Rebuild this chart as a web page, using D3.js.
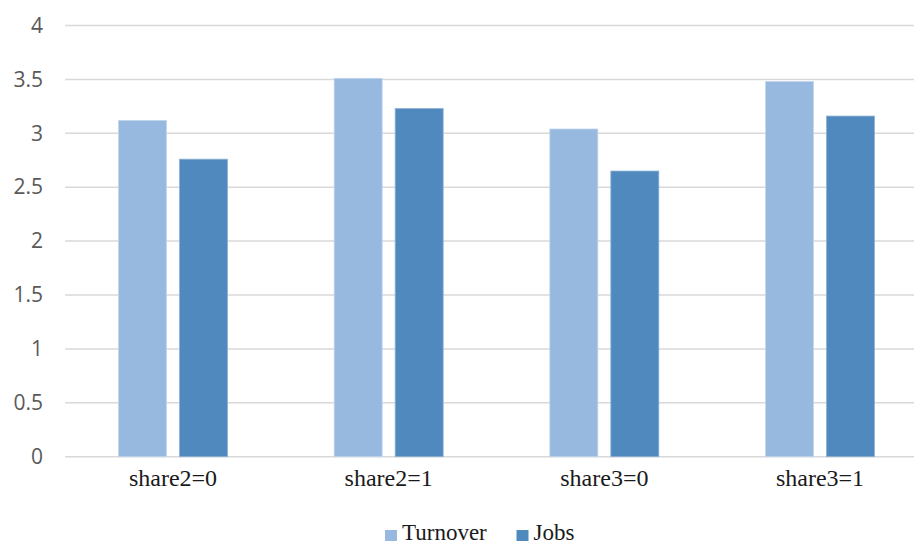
<!DOCTYPE html>
<html>
<head>
<meta charset="utf-8">
<script src="https://cdn.jsdelivr.net/npm/d3@7"></script>
<style>
  html, body { margin: 0; padding: 0; background: #ffffff; }
  svg { display: block; }
</style>
</head>
<body>
<svg id="chart" width="914" height="545"></svg>
<script>
// Data
const categories = ["share2=0", "share2=1", "share3=0", "share3=1"];
const seriesNames = ["Turnover", "Jobs"];
const turnover = [3.12, 3.51, 3.04, 3.48];
const jobs = [2.76, 3.23, 2.65, 3.16];
const yTicks = [0, 0.5, 1, 1.5, 2, 2.5, 3, 3.5, 4];
const colors = ["#98b9df", "#4f89bd"];

const values = [turnover, jobs];

const svg = d3.select("#chart");
const W = 914, H = 545;

// Plot area (the category axis runs a little past the right edge)
const plotLeft = 65.2, plotRight = 927.8;
const plotTop = 25.5, plotBottom = 456.7;

const x0 = d3.scaleBand().domain(categories).range([plotLeft, plotRight]).paddingInner(0).paddingOuter(0);
const groupW = 109;
const x1 = d3.scaleBand().domain(seriesNames).range([0, groupW]).paddingInner(2 - groupW / 61).paddingOuter(0);
const y = d3.scaleLinear().domain([0, 4]).range([plotBottom, plotTop]);

// Gridlines
svg.append("g")
  .selectAll("line")
  .data(yTicks)
  .join("line")
  .attr("x1", plotLeft)
  .attr("x2", W)
  .attr("y1", d => y(d))
  .attr("y2", d => y(d))
  .attr("stroke", "#d9d9d9")
  .attr("stroke-width", 1.5);

// Y axis labels
const yAxis = d3.axisLeft(y).tickValues(yTicks).tickSize(0).tickPadding(0).tickFormat(d3.format("~g"));
const gy = svg.append("g").attr("transform", `translate(43,0)`).call(yAxis);
gy.select(".domain").remove();
gy.selectAll("text")
  .attr("fill", "#595959")
  .style("font-family", "'Open Sans', 'Noto Sans', sans-serif")
  .style("font-size", "21px");

// Bars
const groups = svg.append("g")
  .selectAll("g")
  .data(categories)
  .join("g")
  .attr("transform", c => `translate(${x0(c) + (x0.bandwidth() - groupW) / 2},0)`);

groups.selectAll("rect")
  .data((c, i) => seriesNames.map((s, k) => ({ s, v: values[k][i], k })))
  .join("rect")
  .attr("x", d => x1(d.s))
  .attr("width", x1.bandwidth())
  .attr("y", d => y(d.v))
  .attr("height", d => y(0) - y(d.v))
  .attr("fill", d => colors[d.k])
  .attr("stroke", d => d.k === 0 ? "#c2d6ee" : "#8fb2d6")
  .attr("stroke-width", 0.8);

// X axis labels
const xAxis = d3.axisBottom(x0).tickSize(0).tickPadding(0);
const gx = svg.append("g").attr("transform", `translate(0,${plotBottom + 29})`).call(xAxis);
gx.select(".domain").remove();
gx.selectAll("text")
  .attr("fill", "#1a1a1a")
  .attr("dy", "0")
  .style("font-family", "'Liberation Serif', 'Times New Roman', serif")
  .style("font-size", "24px");

// Legend
const legend = svg.append("g").attr("transform", "translate(385,0)");
const legendX = [0, 131.5];
seriesNames.forEach((s, k) => {
  const g = legend.append("g").attr("transform", `translate(${legendX[k]},0)`);
  g.append("rect")
    .attr("x", 0).attr("y", 530)
    .attr("width", 12).attr("height", 11)
    .attr("fill", colors[k]);
  g.append("text")
    .attr("x", 17).attr("y", 540)
    .attr("fill", "#1a1a1a")
    .style("font-family", "'Liberation Serif', 'Times New Roman', serif")
    .style("font-size", "23px")
    .text(s);
});
</script>
</body>
</html>
